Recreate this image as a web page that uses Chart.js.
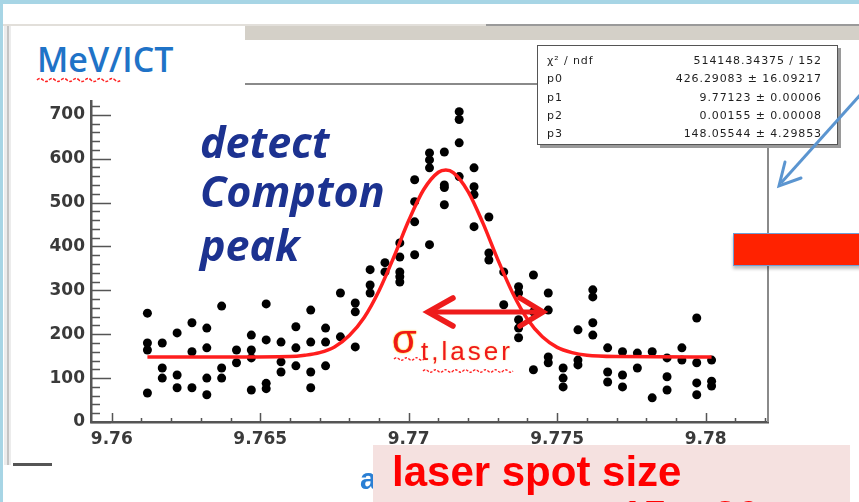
<!DOCTYPE html>
<html><head><meta charset="utf-8">
<script src="https://cdn.jsdelivr.net/npm/chart.js@4.4.0/dist/chart.umd.min.js"></script>
<style>
html,body{margin:0;padding:0;background:#fff;}
#wrap{position:relative;width:859px;height:502px;overflow:hidden;background:#fff;}
#c{position:absolute;left:0;top:0;}
.abs{position:absolute;white-space:nowrap;}
.st{position:absolute;font-family:"DejaVu Sans",sans-serif;font-size:11px;line-height:11px;color:#1e1e1e;letter-spacing:0.9px;}
</style></head><body>
<div id="wrap">
<canvas id="c" width="859" height="502"></canvas>

<!-- slide decorations -->
<div class="abs" style="left:0;top:0;width:859px;height:4px;background:#a7d5e5"></div>
<div class="abs" style="left:0;top:0;width:3px;height:502px;background:#a7d5e5"></div>
<div class="abs" style="left:3px;top:24px;width:483px;height:2px;background:#e2dfda"></div>
<div class="abs" style="left:486px;top:24px;width:373px;height:2px;background:#9a9a9a"></div>
<div class="abs" style="left:245px;top:26px;width:614px;height:14px;background:#d4d0c8"></div>
<div class="abs" style="left:4px;top:26px;width:7px;height:439px;background:#ececec"></div>
<div class="abs" style="left:7px;top:26px;width:2px;height:439px;background:#c4c4c4"></div>
<div class="abs" style="left:13px;top:463px;width:39px;height:3px;background:#555"></div>

<!-- white title box -->
<div class="abs" style="left:12px;top:27px;width:233px;height:73px;background:#fff"></div>
<div class="abs" style="left:37px;top:42px;font-family:'Open Sans';font-weight:600;font-size:34px;line-height:34px;color:#1f73c7">MeV/ICT</div>

<!-- stats box -->
<div class="abs" style="left:537px;top:45px;width:299px;height:98px;background:#fff;border:1px solid #555;box-shadow:3px 3px 0 #9a9a9a"></div>
<div class="st" style="left:547px;top:55px">χ² / ndf</div>
<div class="st" style="left:547px;top:73px">p0</div>
<div class="st" style="left:547px;top:92px">p1</div>
<div class="st" style="left:547px;top:110px">p2</div>
<div class="st" style="left:547px;top:128px">p3</div>
<div class="st" style="right:37px;top:55px">514148.34375 / 152</div>
<div class="st" style="right:37px;top:73px">426.29083 ± 16.09217</div>
<div class="st" style="right:37px;top:92px">9.77123 ± 0.00006</div>
<div class="st" style="right:37px;top:110px">0.00155 ± 0.00008</div>
<div class="st" style="right:37px;top:128px">148.05544 ± 4.29853</div>

<!-- annotation text -->
<div class="abs" style="left:200px;top:120px;font-family:'Open Sans';font-style:italic;font-weight:700;font-size:43px;line-height:43px;color:#1c3290">detect</div>
<div class="abs" style="left:200px;top:169px;font-family:'Open Sans';font-style:italic;font-weight:700;font-size:43px;line-height:43px;color:#1c3290">Compton</div>
<div class="abs" style="left:200px;top:223px;font-family:'Open Sans';font-style:italic;font-weight:700;font-size:43px;line-height:43px;color:#1c3290">peak</div>

<div class="abs" style="left:392px;top:319px;font-family:'Liberation Sans';font-size:40px;line-height:40px;color:#f01818;text-shadow:0 0 2px #ffc400,0 0 1px #ffc400">σ</div>
<div class="abs" style="left:421px;top:338px;font-family:'Liberation Sans';font-size:26px;line-height:26px;letter-spacing:3px;color:#f01818;text-shadow:0 0 2px #ffe08a">t,laser</div>

<svg class="abs" style="left:0;top:0" width="859" height="502">
  <path d="M37 80 q3 -3 6 0 t6 0 t6 0 t6 0 t6 0 t6 0 t6 0 t6 0 t6 0 t6 0 t6 0 t6 0 t6 0 t6 0" fill="none" stroke="#ff2020" stroke-width="1.5" stroke-dasharray="3 1.5"/>
  <path d="M394 359 q2.5 -2.5 5 0 t5 0 t5 0 t5 0 t5 0 t5 0" fill="none" stroke="#ff2020" stroke-width="1.3" stroke-dasharray="2.5 1.5"/>
  <path d="M423 371 q2.5 -2.5 5 0 t5 0 t5 0 t5 0 t5 0 t5 0 t5 0 t5 0 t5 0 t5 0 t5 0 t5 0 t5 0 t5 0 t5 0 t5 0 t5 0 t5 0" fill="none" stroke="#ff2020" stroke-width="1.3" stroke-dasharray="2.5 1.5"/>
  <line x1="431" y1="312" x2="539" y2="312" stroke="#ee1c1c" stroke-width="5"/>
  <polyline points="453,298 428,312 453,326" fill="none" stroke="#ee1c1c" stroke-width="5.5" stroke-linejoin="miter" stroke-linecap="round"/>
  <polyline points="520,298 543,312 520,326" fill="none" stroke="#ee1c1c" stroke-width="5.5" stroke-linejoin="miter" stroke-linecap="round"/>
  <line x1="862" y1="93" x2="781" y2="183" stroke="#5b95d0" stroke-width="3"/>
  <polyline points="785,162 779,186 801,178" fill="none" stroke="#5b95d0" stroke-width="3" stroke-linecap="round"/>
</svg>

<!-- red rectangle -->
<div class="abs" style="left:733px;top:233px;width:130px;height:31px;background:#ff2200;border:1px solid #6f9fd6;box-shadow:0 3px 3px rgba(0,0,0,0.25)"></div>

<!-- bottom text box -->
<div class="abs" style="left:360px;top:464px;font-family:'Liberation Sans';font-weight:700;font-size:30px;line-height:30px;color:#2a7fd4">a</div>
<div class="abs" style="left:373px;top:445px;width:477px;height:60px;background:#f5e1e0"></div>
<div class="abs" style="left:392px;top:451px;font-family:'Liberation Sans';font-weight:700;font-size:42px;line-height:42px;color:#ff0000">laser spot size</div>
<div class="abs" style="left:620px;top:495px;font-family:'Liberation Sans';font-weight:700;font-size:42px;line-height:42px;color:#ff0000">15 x 20</div>
</div>

<script>
// ---- axis ticks ----
const xTicks = [9.76, 9.765, 9.77, 9.775, 9.78];
const xTickLabels = ['9.76', '9.765', '9.77', '9.775', '9.78'];
const yTicks = [0, 100, 200, 300, 400, 500, 600, 700];
const yTickLabels = ['0', '100', '200', '300', '400', '500', '600', '700'];

// ---- measured points (x, y) ----
const pointX = [
  9.7612,9.7612,9.7612,9.7612,
  9.7617,9.7617,9.7617,
  9.7622,9.7622,9.7622,
  9.7627,9.7627,9.7627,
  9.7632,9.7632,9.7632,9.7632,
  9.7637,9.7637,9.7637,
  9.7642,9.7642,
  9.7647,9.7647,9.7647,9.7647,
  9.7652,9.7652,9.7652,9.7652,
  9.7657,9.7657,9.7657,
  9.7662,9.7662,9.7662,
  9.7667,9.7667,9.7667,9.7667,
  9.7672,9.7672,9.7672,
  9.7677,9.7677,
  9.7682,9.7682,9.7682,
  9.7687,9.7687,9.7687,
  9.7692,9.7692,
  9.7697,9.7697,9.7697,9.7697,9.7697,
  9.7702,9.7702,9.7702,9.7702,
  9.7707,9.7707,9.7707,9.7707,
  9.7712,9.7712,9.7712,9.7712,
  9.7717,9.7717,9.7717,9.7717,
  9.7722,9.7722,9.7722,9.7722,
  9.7727,9.7727,9.7727,
  9.7732,9.7732,
  9.7737,9.7737,9.7737,9.7737,9.7737,
  9.7742,9.7742,9.7742,
  9.7747,9.7747,9.7747,9.7747,
  9.7752,9.7752,9.7752,
  9.7757,9.7757,9.7757,
  9.7762,9.7762,9.7762,9.7762,
  9.7767,9.7767,9.7767,
  9.7772,9.7772,9.7772,
  9.7777,9.7777,
  9.7782,9.7782,
  9.7787,9.7787,9.7787,
  9.7792,9.7792,
  9.7797,9.7797,9.7797,9.7797,
  9.7802,9.7802,9.7802
];
const pointY = [
  248,180,164,66,
  180,123,100,
  203,107,78,
  226,160,78,
  214,169,100,62,
  264,123,100,
  164,135,
  198,164,146,73,
  269,187,88,76,
  182,137,114,
  217,169,128,
  255,182,114,78,
  214,182,128,
  294,194,
  271,251,171,
  347,312,294,
  363,342,
  408,376,342,331,319,
  552,502,456,381,
  613,597,579,404,
  615,540,534,495,
  707,689,636,559,
  579,536,518,445,
  467,385,369,
  342,267,
  308,294,233,214,192,
  335,251,119,
  294,255,148,135,
  123,100,80,
  210,141,130,
  301,285,226,198,
  169,114,91,
  160,107,80,
  157,123,
  160,55,
  146,103,73,
  169,141,
  237,135,89,62,
  141,93,82
];

// ---- fitted curve ----
const fitX = [9.7612,9.7640,9.7660,9.7665,9.7670,9.7675,9.7680,9.7685,9.7690,9.7695,9.7700,9.7705,9.7710,9.77125,9.7715,9.7720,9.7725,9.7730,9.7735,9.7740,9.7745,9.7750,9.7755,9.7760,9.7770,9.7802];
const fitY = [148,148,149,152,158,171,197,238,299,376,459,529,569,574,568,525,453,370,294,234,194,170,158,152,149,148];

const pts = pointX.map((x, i) => ({x, y: pointY[i]}));
const fit = fitX.map((x, i) => ({x, y: fitY[i]}));

const insideTicks = {
  id: 'insideTicks',
  beforeDatasetsDraw(chart) {
    const {ctx, chartArea: a, scales: {x, y}} = chart;
    ctx.save();
    ctx.strokeStyle = '#555';
    ctx.lineWidth = 1.5;
    ctx.beginPath();
    for (let k = 0; k <= 22; k++) {
      const v = 9.76 + k * 0.001;
      const px = Math.round(x.getPixelForValue(v)) + 0.5;
      const major = (k % 5 === 0);
      ctx.moveTo(px, a.bottom);
      ctx.lineTo(px, a.bottom - (major ? 9 : 4));
    }
    for (let v = 0; v <= 760; v += 20) {
      const py = Math.round(y.getPixelForValue(v)) + 0.5;
      const major = (v % 100 === 0);
      ctx.moveTo(a.left, py);
      ctx.lineTo(a.left + (major ? 20 : 9), py);
    }
    ctx.stroke();
    ctx.strokeStyle = '#8a8a8a';
    ctx.lineWidth = 2;
    ctx.beginPath();
    ctx.moveTo(a.left, a.top);
    ctx.lineTo(a.right, a.top);
    ctx.lineTo(a.right, a.bottom);
    ctx.stroke();
    ctx.restore();
  }
};

new Chart(document.getElementById('c'), {
  type: 'scatter',
  data: {
    datasets: [
      {label: 'fit', data: fit, showLine: true, borderColor: '#ff1e1e', borderWidth: 3.5,
       pointRadius: 0, cubicInterpolationMode: 'monotone', order: 0},
      {label: 'data', data: pts, backgroundColor: '#000', borderColor: '#000', borderWidth: 0,
       pointRadius: 4.5, order: 1}
    ]
  },
  options: {
    responsive: false,
    animation: false,
    devicePixelRatio: 1,
    layout: {padding: {left: 0, top: 84, right: 91, bottom: 0}},
    plugins: {legend: {display: false}, tooltip: {enabled: false}},
    scales: {
      x: {
        type: 'linear', min: 9.7593, max: 9.7821,
        afterBuildTicks: s => { s.ticks = xTicks.map(v => ({value: v})); },
        afterFit: s => { s.height = 80; },
        grid: {display: false, drawTicks: false},
        border: {display: true, color: '#555', width: 2.5},
        ticks: {
          autoSkip: false, maxRotation: 0, padding: 7, color: '#3a3a3a',
          font: {family: 'DejaVu Sans', weight: 'bold', size: 17},
          callback: v => xTickLabels[xTicks.findIndex(t => Math.abs(t - v) < 1e-9)]
        }
      },
      y: {
        type: 'linear', min: 0, max: 770,
        afterBuildTicks: s => { s.ticks = yTicks.map(v => ({value: v})); },
        afterFit: s => { s.width = 91; },
        grid: {display: false, drawTicks: false},
        border: {display: true, color: '#555', width: 2.5},
        ticks: {
          autoSkip: false, padding: 6, color: '#3a3a3a',
          font: {family: 'DejaVu Sans', weight: 'bold', size: 17},
          callback: v => yTickLabels[yTicks.indexOf(v)]
        }
      }
    }
  },
  plugins: [insideTicks]
});
</script>
</body></html>
